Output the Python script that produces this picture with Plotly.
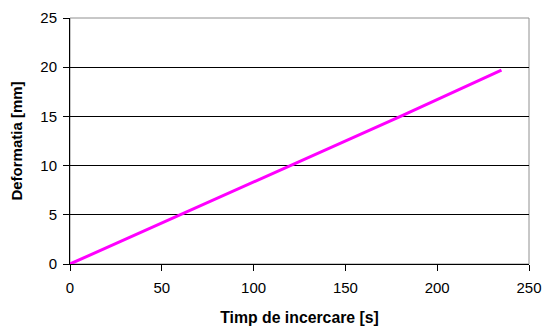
import plotly.graph_objects as go

time_s = [0, 60, 120, 180, 235]
deformatia = [0, 5, 10, 15, 19.7]
x_ticks = [0, 50, 100, 150, 200, 250]
y_ticks = [0, 5, 10, 15, 20, 25]

fig = go.Figure()
fig.add_trace(go.Scatter(x=time_s, y=deformatia, mode="lines",
                         line=dict(color="#FF00FF", width=3), showlegend=False))

font = dict(family="Liberation Sans, Arial, sans-serif", size=15, color="black")
fig.update_layout(
    template="none",
    width=544, height=330,
    margin=dict(l=70, r=15, t=18, b=66, autoexpand=False),
    paper_bgcolor="white", plot_bgcolor="white",
    font=font,
    xaxis=dict(range=[0, 250], tickvals=x_ticks, showgrid=False, zeroline=False,
               showline=True, linecolor="black", linewidth=1, automargin=False,
               ticks="outside", ticklen=6, tickcolor="black", tickfont=dict(size=15),
               ticklabelstandoff=4,
               title=dict(text="<b>Timp de incercare [s]</b>", font=dict(size=15.8), standoff=16)),
    yaxis=dict(range=[0, 25], tickvals=y_ticks, showgrid=True, gridcolor="black", gridwidth=1,
               zeroline=False, showline=True, linecolor="black", linewidth=1, automargin=False,
               ticks="outside", ticklen=6, tickcolor="black", tickfont=dict(size=15),
               ticklabelstandoff=3,
               title=dict(text="<b>Deformatia [mm]</b>", font=dict(size=15), standoff=14)),
    shapes=[dict(type="rect", xref="paper", yref="paper", x0=0, y0=0, x1=1, y1=1,
                 line=dict(color="#909090", width=1), layer="below")],
)
fig.write_html("out.html")
